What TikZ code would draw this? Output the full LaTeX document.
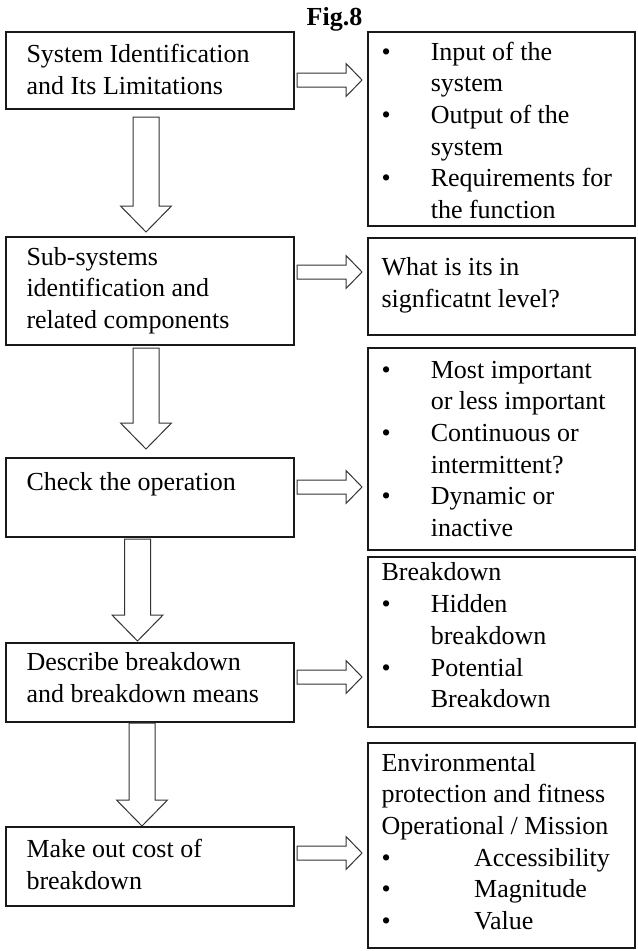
\documentclass[tikz,border=0pt]{standalone}
\usepackage{fontspec}
\setmainfont{Liberation Serif}
\usetikzlibrary{calc}

\newcommand\itembul{\makebox[37pt][l]{\textbullet}}
\newcommand\itemgap{\hspace*{37pt}}
\newcommand\itemwide{\makebox[69.5pt][l]{\textbullet}}

\tikzset{every picture/.style={line width=0.75pt}}
\tikzset{
  box/.style={draw=black!90, line width=1.5pt, inner sep=0pt, outer sep=0pt},
  txt/.style={anchor=base west, inner sep=0pt, align=left, font=\fontsize{19.5}{23.8}\selectfont},
  rarrow/.style={draw=black!80, line width=0.75pt, to path={
    ($(\tikztostart)+(3,-7)$) -- ($(\tikztotarget)+(-22,-7)$) -- ($(\tikztotarget)+(-22,-16.5)$)
    -- ($(\tikztotarget)+(-6,0)$) -- ($(\tikztotarget)+(-22,16.5)$) -- ($(\tikztotarget)+(-22,7)$)
    -- ($(\tikztostart)+(3,7)$) -- cycle}},
  darrow/.style 2 args={draw=black!80, line width=0.75pt, to path={
    ($(\tikztostart)+(-13,#1)$) -- ($(\tikztotarget)+(-13,-#2-26)$) -- ($(\tikztotarget)+(-25.5,-#2-26)$)
    -- ($(\tikztotarget)+(0,-#2)$) -- ($(\tikztotarget)+(25.5,-#2-26)$) -- ($(\tikztotarget)+(13,-#2-26)$)
    -- ($(\tikztostart)+(13,#1)$) -- cycle}}
}

\begin{document}
\begin{tikzpicture}[x=0.75pt,y=0.75pt,yscale=-1,xscale=1]
\useasboundingbox (0,0) rectangle (637,951);

%Shape: Rectangle (left column)
\node [box, minimum width=216pt, minimum height=57.75pt] (s1) at (150,70.5) {};
\node [box, minimum width=216pt, minimum height=81pt] (s2) at (150,291) {};
\node [box, minimum width=216pt, minimum height=59.25pt] (s3) at (150,497.5) {};
\node [box, minimum width=216pt, minimum height=59.25pt] (s4) at (150,682.5) {};
\node [box, minimum width=216pt, minimum height=59.25pt] (s5) at (150,866.5) {};
%Shape: Rectangle (right column)
\node [box, minimum width=200.25pt, minimum height=145.5pt] (r1) at (501.5,129) {};
\node [box, minimum width=200.25pt, minimum height=72.75pt] (r2) at (501.5,286.5) {};
\node [box, minimum width=200.25pt, minimum height=151.5pt] (r3) at (501.5,449) {};
\node [box, minimum width=200.25pt, minimum height=127.5pt] (r4) at (501.5,642) {};
\node [box, minimum width=200.25pt, minimum height=153.75pt] (r5) at (501.5,845.5) {};

%Shape: Down Arrow
\draw [darrow={8}{5}] (s1.south -| 146,0) to (s2.north -| 146,0);
\draw [darrow={3}{9}] (s2.south -| 146,0) to (s3.north -| 146,0);
\draw [darrow={2}{2}] (s3.south -| 137.5,0) to (s4.north -| 137.5,0);
\draw [darrow={1}{1}] (s4.south -| 142,0) to (s5.north -| 142,0);
%Shape: Right Arrow
\draw [rarrow] (s1.east |- 0,80) to (r1.west |- 0,80);
\draw [rarrow] (s2.east |- 0,272) to (r2.west |- 0,272);
\draw [rarrow] (s3.east |- 0,487) to (r3.west |- 0,487);
\draw [rarrow] (s4.east |- 0,677) to (r4.west |- 0,677);
\draw [rarrow] (s5.east |- 0,853) to (r5.west |- 0,853);

% Text Node (anchored at the baseline of the last line)
\node [anchor=base, inner sep=0pt, font=\fontsize{19.5}{23.8}\selectfont\bfseries] (title) at (334.5,25) {Fig.8};
% Text Node
\node [txt] (t1) at (26,94.7) {System Identification\\and Its Limitations};
% Text Node
\node [txt] (t2) at (26,328.5) {Sub-systems\\identification and\\related components};
% Text Node
\node [txt] (t3) at (26,490) {Check the operation};
% Text Node
\node [txt] (t4) at (26,702.7) {Describe breakdown\\and breakdown means};
% Text Node
\node [txt] (t5) at (26,889.7) {Make out cost of\\breakdown};
% Text Node
\node [txt] (u1) at (381,218.7) {\itembul Input of the\\\itemgap system\\\itembul Output of the\\\itemgap system\\\itembul Requirements for\\\itemgap the function};
% Text Node
\node [txt] (u2) at (381,307.7) {What is its in\\signficatnt level?};
% Text Node
\node [txt] (u3) at (381,536.7) {\itembul Most important\\\itemgap or less important\\\itembul Continuous or\\\itemgap intermittent?\\\itembul Dynamic or\\\itemgap inactive};
% Text Node
\node [txt] (u4) at (381,707.9) {Breakdown\\\itembul Hidden\\\itemgap breakdown\\\itembul Potential\\\itemgap Breakdown};
% Text Node
\node [txt] (u5) at (381,929.7) {Environmental\\protection and fitness\\Operational / Mission\\\itemwide Accessibility\\\itemwide Magnitude\\\itemwide Value};

\end{tikzpicture}
\end{document}
